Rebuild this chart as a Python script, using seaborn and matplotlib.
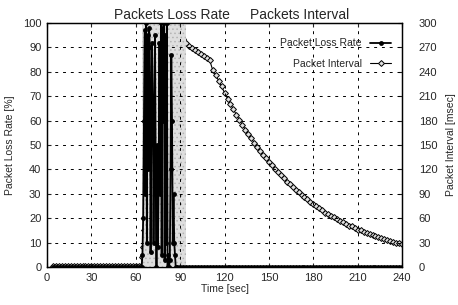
import matplotlib
matplotlib.use("Agg")
import pandas as pd
import seaborn as sns
from matplotlib import pyplot as plt

# loss rate [%] (left axis)
loss_before_t = list(range(4, 64, 2))
loss_before = [0, 0, 0, 0, 0, 0, 0, 0, 0, 0, 0, 0, 0, 0, 0,
               0, 0, 0, 0, 0, 0, 0, 0, 0, 0, 0, 0, 0, 0, 0]
loss_burst_t = [64, 64.5, 65, 65.5, 66, 66.5, 67, 67.5, 68, 68.5, 69, 69.5,
                70, 70.5, 71, 71.5, 72, 72.5, 73, 73.5, 74, 74.5, 75, 75.5,
                76, 76.5, 77, 77.5, 78, 78.5, 79, 79.5, 80, 80.5, 81, 81.5,
                82, 82.5, 83, 83.5, 84, 84.5, 85, 85.5, 86, 86.5, 87, 88]
loss_burst = [0, 5, 20, 60, 97, 30, 100, 10, 95, 40, 98, 90,
              6, 55, 92, 70, 10, 50, 95, 35, 0, 50, 8, 40,
              92, 30, 100, 5, 98, 60, 100, 3, 95, 10, 100, 0,
              5, 0, 3, 40, 87, 60, 10, 30, 10, 5, 0, 0]
loss_after_t = list(range(90, 242, 2))
loss_after = [0, 0, 0, 0, 0, 0, 0, 0, 0, 0, 0, 0, 0, 0, 0, 0, 0, 0, 0,
              0, 0, 0, 0, 0, 0, 0, 0, 0, 0, 0, 0, 0, 0, 0, 0, 0, 0, 0,
              0, 0, 0, 0, 0, 0, 0, 0, 0, 0, 0, 0, 0, 0, 0, 0, 0, 0, 0,
              0, 0, 0, 0, 0, 0, 0, 0, 0, 0, 0, 0, 0, 0, 0, 0, 0, 0, 0]

# packet interval [msec] (right axis)
intv_before_t = list(range(4, 64, 2))
intv_before = [1, 1, 1, 1, 1, 1, 1, 1, 1, 1, 1, 1, 1, 1, 1,
               1, 1, 1, 1, 1, 1, 1, 1, 1, 1, 1, 1, 1, 1, 1]
intv_burst_t = [64, 64.5, 65, 65.5, 66, 66.5, 67, 68, 69, 70, 71, 72, 73, 74,
                75, 76, 77, 78, 79, 80, 81, 82, 83, 84, 85, 86, 87, 88]
intv_burst = [3, 12, 25, 45, 90, 200, 285, 294, 297, 296, 298, 300, 299, 298,
              300, 297, 299, 300, 298, 299, 300, 298, 296, 299, 300, 298, 297, 294]
intv_after_t = list(range(90, 242, 2))
intv_after = [287, 280, 276, 272, 269, 267, 264, 262, 259, 257, 254,
              242, 236, 229, 222, 214, 207, 200, 194, 187, 181,
              175, 169, 163, 158, 153, 148, 143, 138, 134, 129,
              125, 121, 117, 113, 109, 105, 102, 98, 95, 92,
              89, 86, 83, 80, 77, 75, 72, 70, 67, 65,
              63, 61, 59, 57, 55, 53, 51, 50, 48, 46,
              45, 43, 42, 41, 39, 38, 37, 36, 34, 33,
              32, 31, 30, 29, 28]

congestion_span = (64, 94)
x_ticks = [0, 30, 60, 90, 120, 150, 180, 210, 240]
loss_ticks = [0, 10, 20, 30, 40, 50, 60, 70, 80, 90, 100]
intv_ticks = [0, 30, 60, 90, 120, 150, 180, 210, 240, 270, 300]

loss = pd.DataFrame({"time": loss_before_t + loss_burst_t + loss_after_t,
                     "rate": loss_before + loss_burst + loss_after})
intv = pd.DataFrame({"time": intv_before_t + intv_burst_t + intv_after_t,
                     "interval": intv_before + intv_burst + intv_after})

sns.set_style("ticks")
plt.rcParams["font.family"] = ["Liberation Sans", "DejaVu Sans"]
plt.rcParams["hatch.linewidth"] = 0.6

fig = plt.figure(figsize=(4.58, 3.05), dpi=100)
ax = fig.add_axes([0.1026, 0.1246, 0.7754, 0.8])
ax2 = ax.twinx()

# shaded congestion period
ax.axvspan(*congestion_span, facecolor="#dedede", edgecolor="#b4b4b4",
           hatch="....", linewidth=0, zorder=0)

sns.lineplot(data=intv, x="time", y="interval", ax=ax2, color="black",
             linewidth=0.8, marker="D", markersize=3.0, markerfacecolor="#e0e0e0",
             markeredgecolor="black", markeredgewidth=0.7,
             label="Packet Interval", legend=False)
sns.lineplot(data=loss, x="time", y="rate", ax=ax, color="black",
             linewidth=1.3, marker="o", markersize=3.5, markeredgewidth=0,
             label="Packet Loss Rate", legend=False)
ax.set_zorder(ax2.get_zorder() + 1)
ax.patch.set_visible(False)

ax.set_xlim(0, 240)
ax.set_ylim(0, 100)
ax2.set_ylim(0, 300)
ax.set_xticks(x_ticks)
ax.set_yticks(loss_ticks)
ax2.set_yticks(intv_ticks)
ax.grid(True, color="black", linestyle=(0, (3, 5)), linewidth=0.7)
ax.tick_params(direction="in", labelsize=8, length=3, top=True, pad=4)
ax2.tick_params(direction="in", labelsize=8, length=3, pad=12)
for a in (ax, ax2):
    for s in a.spines.values():
        s.set_visible(True)
        s.set_color("black")
        s.set_linewidth(0.9)

ax.set_xlabel("Time [sec]", fontsize=7.5, labelpad=1)
ax.set_ylabel("Packet Loss Rate [%]", fontsize=7.5, labelpad=6)
ax2.set_ylabel("Packet Interval [msec]", fontsize=7.5, labelpad=6)

h1, l1 = ax.get_legend_handles_labels()
h2, l2 = ax2.get_legend_handles_labels()
ax.legend(h1 + h2, l1 + l2, loc="upper right", bbox_to_anchor=(0.995, 0.975),
          frameon=False, fontsize=7.5, markerfirst=False, handlelength=2,
          labelspacing=1.0)

fig.text(0.375, 0.951, "Packets Loss Rate", ha="center", va="center", fontsize=10)
fig.text(0.655, 0.951, "Packets Interval", ha="center", va="center", fontsize=10)

fig.savefig("out.png", dpi=100)
